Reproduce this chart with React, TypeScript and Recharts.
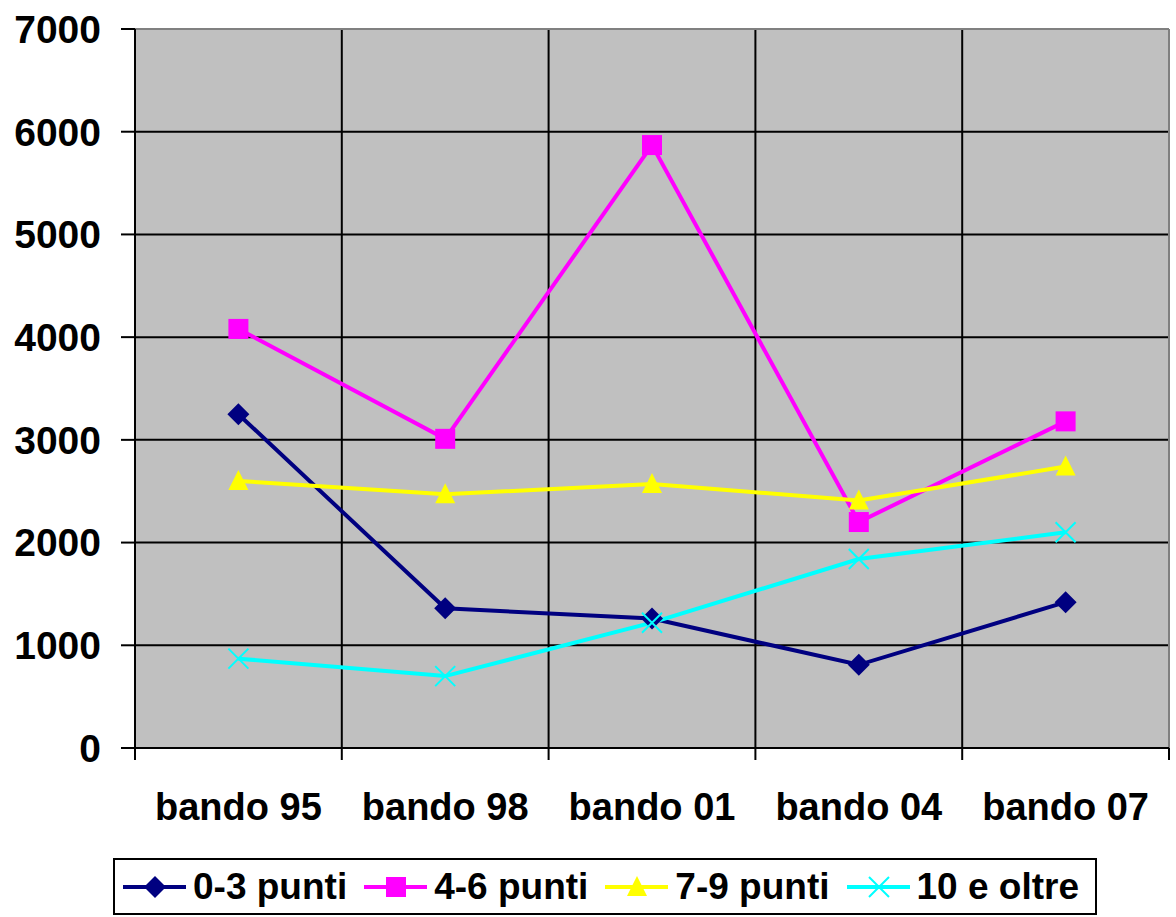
import { LineChart, Line, XAxis, YAxis, CartesianGrid, ReferenceLine, Legend } from "recharts";

const categories = ["bando 95", "bando 98", "bando 01", "bando 04", "bando 07"];
const punti0_3 = [3250, 1360, 1260, 810, 1420];
const punti4_6 = [4080, 3010, 5870, 2200, 3180];
const punti7_9 = [2600, 2470, 2570, 2410, 2740];
const oltre10 = [870, 700, 1220, 1840, 2100];
const yTicks = [0, 1000, 2000, 3000, 4000, 5000, 6000, 7000];

const series = [
  { key: "a", name: "0-3 punti", color: "#000080", shape: "diamond" },
  { key: "b", name: "4-6 punti", color: "#FF00FF", shape: "square" },
  { key: "c", name: "7-9 punti", color: "#FFFF00", shape: "triangle" },
  { key: "d", name: "10 e oltre", color: "#00FFFF", shape: "x" },
];

const data = categories.map((name, i) => ({
  pos: i + 0.5,
  name,
  a: punti0_3[i],
  b: punti4_6[i],
  c: punti7_9[i],
  d: oltre10[i],
}));

const FONT = "'Liberation Sans', Arial, sans-serif";
const PLOT_W = 1034;
const BAND = PLOT_W / categories.length;

function Marker({ shape, cx, cy, color }: any) {
  if (cx == null || cy == null) return null;
  if (shape === "diamond")
    return <polygon points={`${cx},${cy - 11} ${cx + 11},${cy} ${cx},${cy + 11} ${cx - 11},${cy}`} fill={color} />;
  if (shape === "square") return <rect x={cx - 10} y={cy - 10} width={20} height={20} fill={color} />;
  if (shape === "triangle")
    return <polygon points={`${cx},${cy - 11} ${cx + 10},${cy + 9} ${cx - 10},${cy + 9}`} fill={color} />;
  return (
    <path
      d={`M${cx - 10},${cy - 10}L${cx + 10},${cy + 10}M${cx + 10},${cy - 10}L${cx - 10},${cy + 10}`}
      stroke={color}
      strokeWidth={2}
      fill="none"
    />
  );
}

function XTick({ x, y, payload }: any) {
  const label = categories[payload.value];
  if (!label) return <g />;
  return (
    <text x={x + BAND / 2} y={y} dy={58} textAnchor="middle" fill="#000" fontSize={38} fontWeight="bold" fontFamily={FONT}>
      {label}
    </text>
  );
}

function LegendBox() {
  return (
    <div
      style={{
        display: "flex",
        alignItems: "center",
        border: "2px solid #000",
        background: "#fff",
        width: 984,
        height: 57,
        padding: "0 0 0 8px",
        boxSizing: "border-box",
        fontFamily: FONT,
        fontWeight: "bold",
        fontSize: 37,
        color: "#000",
        whiteSpace: "nowrap",
      }}
    >
      {series.map((s) => (
        <div key={s.key} style={{ display: "flex", alignItems: "center", marginRight: 17 }}>
          <svg width={63} height={26} style={{ marginRight: 7 }}>
            <line x1={0} y1={13} x2={63} y2={13} stroke={s.color} strokeWidth={4} />
            <Marker shape={s.shape} cx={32} cy={13} color={s.color} />
          </svg>
          <span>{s.name}</span>
        </div>
      ))}
    </div>
  );
}

export default function App() {
  return (
    <div style={{ position: "absolute", left: 0, top: 0, width: 1176, height: 917, background: "#fff" }}>
      <LineChart width={1176} height={917} data={data} margin={{ top: 29, right: 7, left: 0, bottom: 79 }}>
        <CartesianGrid
          fill="#C0C0C0"
          stroke="#000"
          strokeWidth={2}
          verticalCoordinatesGenerator={({ offset }: any) =>
            [0, 1, 2, 3, 4].map((i) => offset.left + (offset.width * i) / 5)
          }
          horizontalCoordinatesGenerator={({ offset }: any) =>
            [1, 2, 3, 4, 5, 6, 7].map((i) => offset.top + (offset.height * i) / 7)
          }
        />
        <XAxis
          type="number"
          dataKey="pos"
          domain={[0, 5]}
          ticks={[0, 1, 2, 3, 4, 5]}
          interval={0}
          height={90}
          tickSize={12}
          tick={<XTick />}
          axisLine={{ stroke: "#000", strokeWidth: 2 }}
          tickLine={{ stroke: "#000", strokeWidth: 2 }}
        />
        <YAxis
          domain={[0, 7000]}
          ticks={yTicks}
          interval={0}
          width={135}
          tickSize={14}
          tickMargin={20}
          axisLine={{ stroke: "#000", strokeWidth: 2 }}
          tickLine={{ stroke: "#000", strokeWidth: 2 }}
          tick={{ fill: "#000", fontSize: 39, fontWeight: "bold", fontFamily: FONT }}
        />
        <ReferenceLine y={7000} stroke="#808080" strokeWidth={2} />
        <ReferenceLine x={5} stroke="#808080" strokeWidth={2} />
        {series.map((s) => (
          <Line
            key={s.key}
            dataKey={s.key}
            name={s.name}
            stroke={s.color}
            strokeWidth={4}
            isAnimationActive={false}
            dot={(p: any) => <Marker key={`${s.key}-${p.index}`} shape={s.shape} cx={p.cx} cy={p.cy} color={s.color} />}
            activeDot={false}
          />
        ))}
        <Legend
          verticalAlign="middle"
          align="center"
          layout="horizontal"
          content={<LegendBox />}
          wrapperStyle={{ position: "absolute", left: 113, top: 858, width: "auto", height: 57 }}
        />
      </LineChart>
    </div>
  );
}
